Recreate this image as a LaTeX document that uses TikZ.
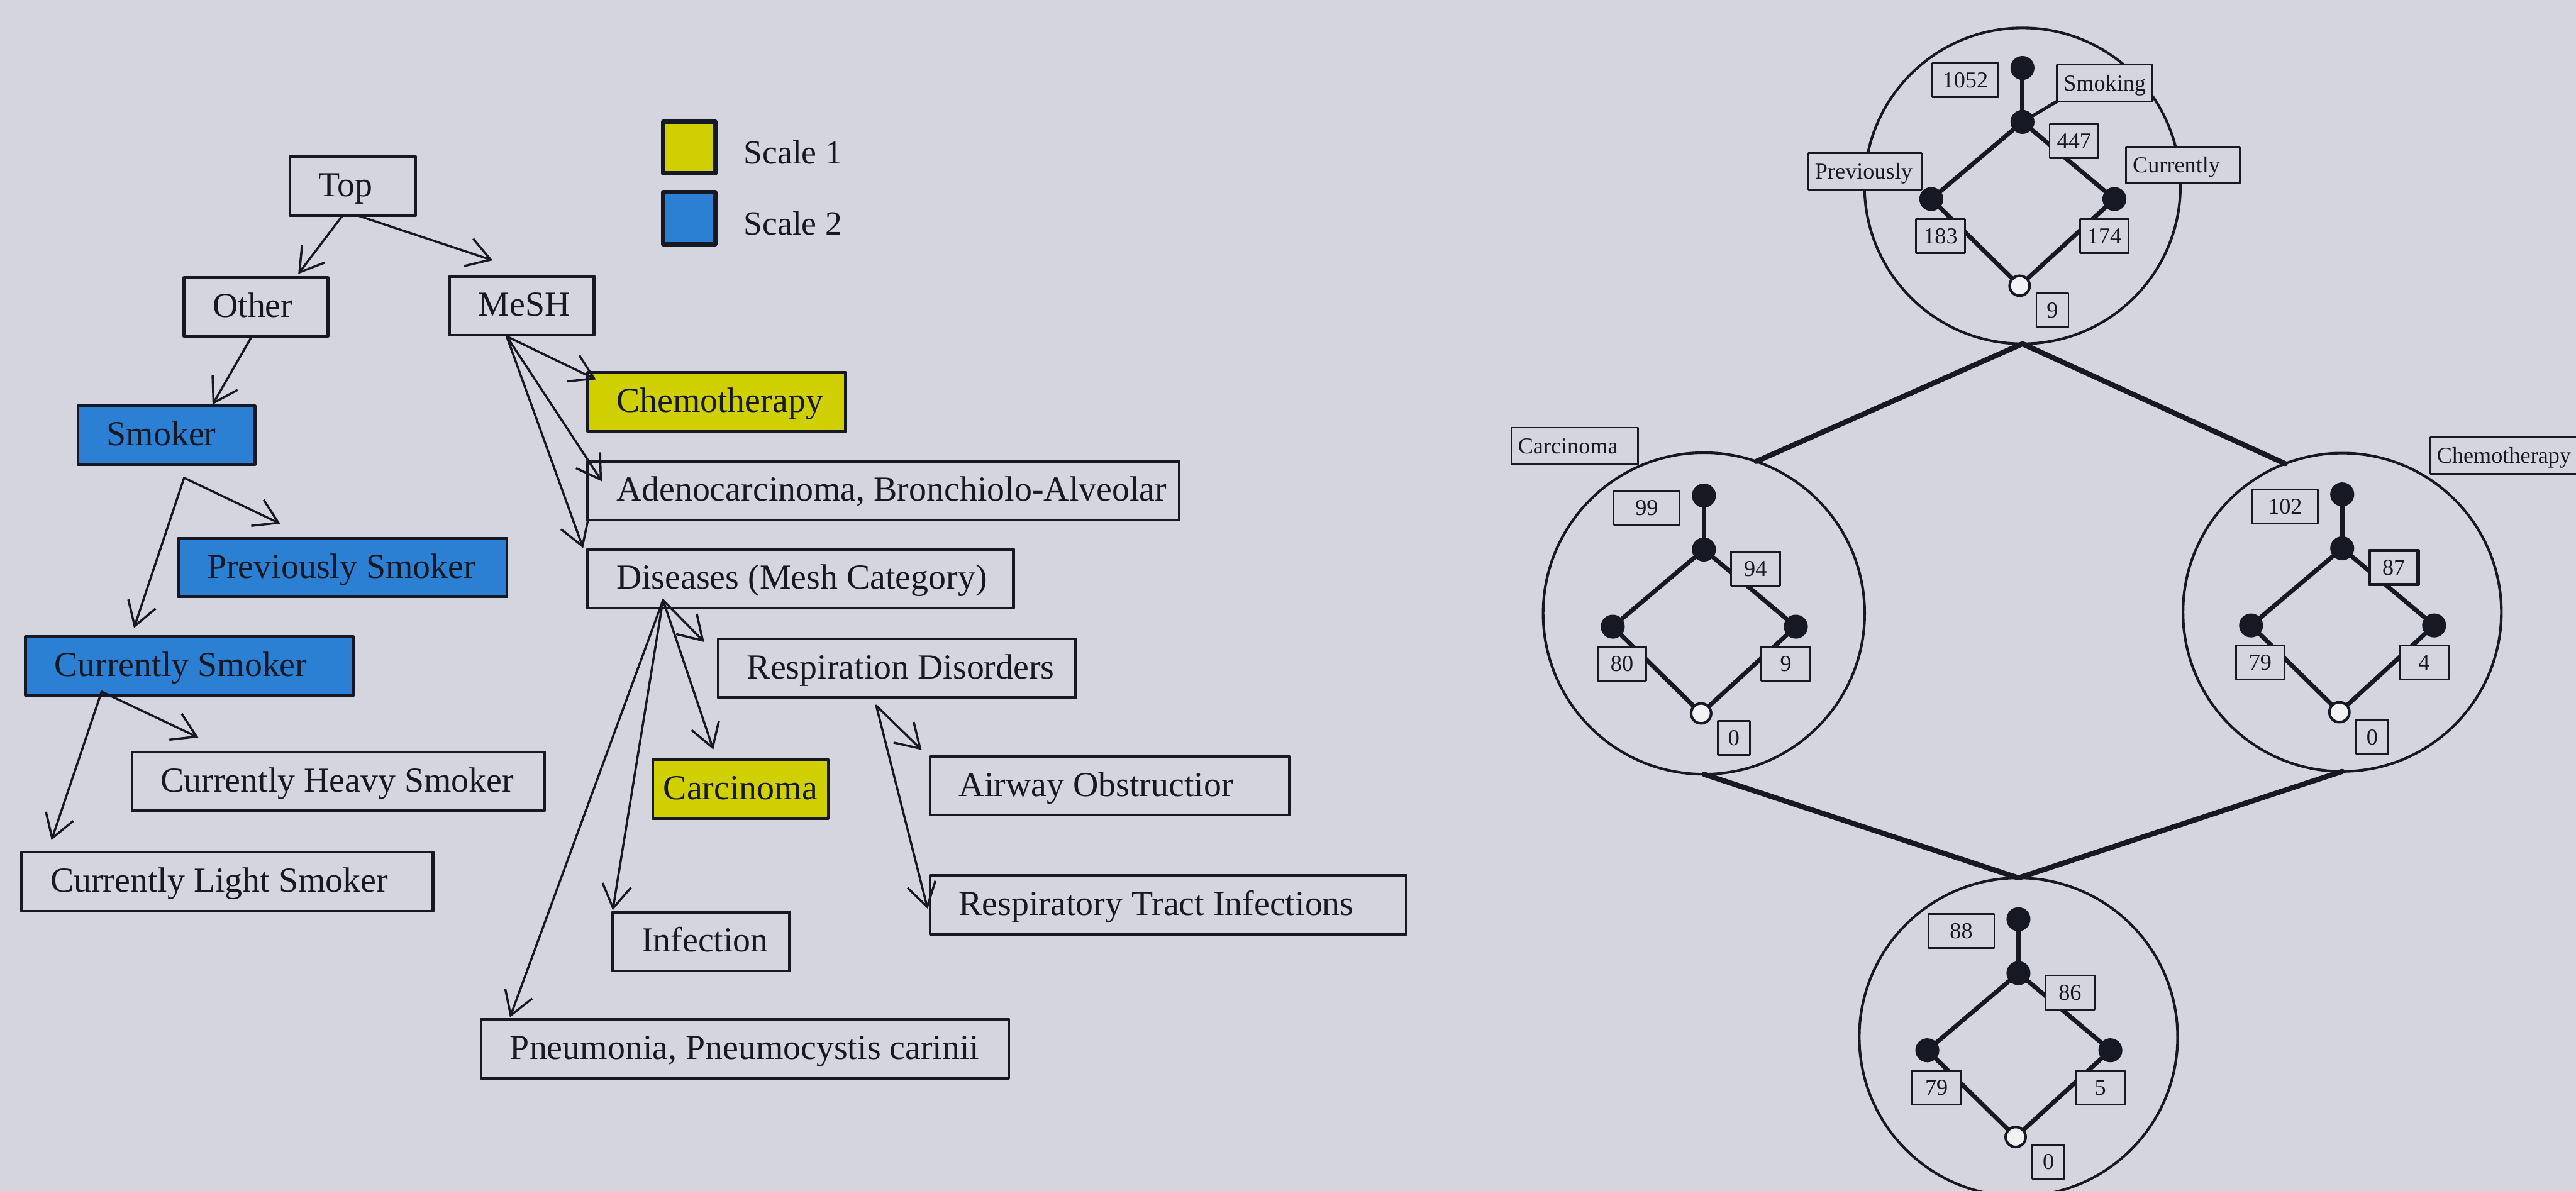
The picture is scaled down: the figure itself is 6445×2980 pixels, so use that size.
\documentclass[tikz,border=0pt]{standalone}
\usepackage{fontspec}
\setmainfont{Liberation Serif}
\usetikzlibrary{arrows.meta,calc}

\definecolor{paper}{RGB}{212,213,222}
\definecolor{ink}{RGB}{22,24,36}
\definecolor{scaleone}{RGB}{208,208,0}
\definecolor{scaletwo}{RGB}{44,128,212}

% struts keep the baselines of all box texts at the same height
\newcommand\tstrut{\rule[-0.23cm]{0pt}{0.98cm}}
\newcommand\sstrut{\rule[-0.14cm]{0pt}{0.66cm}}
\newcommand\padtext[2]{\hbox to #1{\tstrut#2\hss}}
\newcommand\padlabel[2]{\hbox to #1{\sstrut#2\hss}}

\tikzset{
  tbox/.style={draw=ink, line width=0.07cm, fill=paper, anchor=west, outer sep=0pt,
    inner xsep=0.72cm, inner ysep=0.1cm, minimum height=1.47cm,
    font=\fontsize{25}{30}\selectfont, text=ink},
  sc1/.style={tbox, fill=scaleone},
  sc2/.style={tbox, fill=scaletwo},
  arr/.style={draw=ink, line width=0.055cm, -{Straight Barb[length=0.58cm,width=0.72cm]}},
  ring/.style={circle, draw=ink, line width=0.065cm, inner sep=0pt, outer sep=0pt},
  link/.style={draw=ink, line width=0.13cm},
  edge/.style={draw=ink, line width=0.11cm},
  dot/.style={circle, fill=ink, inner sep=0pt, minimum size=0.6cm},
  odot/.style={circle, draw=ink, fill=white!70!paper, line width=0.065cm, inner sep=0pt, minimum size=0.5cm},
  cnt/.style={draw=ink, fill=paper, line width=0.045cm, inner sep=0pt, minimum height=0.85cm,
    font=\fontsize{16.2}{19}\selectfont, text=ink},
  lab/.style={draw=ink, fill=paper, line width=0.045cm, anchor=west, outer sep=0pt,
    inner xsep=0.17cm, inner ysep=0.05cm, minimum height=0.92cm,
    font=\fontsize{16.2}{19}\selectfont, text=ink},
  swatch/.style={draw=ink, line width=0.11cm, minimum size=1.3cm, inner sep=0pt},
}

% one concept lattice inside a circle:
% #1 prefix, #2 centre, #3-#7 counts (top, middle, left, right, bottom), #8 extra style of middle count
\newcommand\drawlattice[8]{%
  \begin{scope}[shift={(#2)}]
    \node[dot] (#1t) at (0,-295) {};
    \node[dot] (#1m) at (0,-160) {};
    \node[dot] (#1l) at (-228,33) {};
    \node[dot] (#1r) at (230,33) {};
    \node[odot] (#1b) at (-7,250) {};
    \draw[edge] (#1t) -- (#1m);
    \draw[edge] (#1m) -- (#1l) (#1l) -- (#1b) (#1b) -- (#1r) (#1r) -- (#1m);
    \node[cnt, minimum width=1.65cm] (#1ct) at (-143,-265) {\sstrut#3};
    \node[cnt, minimum width=1.22cm, #8] (#1cm) at (129,-112) {\sstrut#4};
    \node[cnt, minimum width=1.22cm] (#1cl) at (-205,126) {\sstrut#5};
    \node[cnt, minimum width=1.22cm] (#1cr) at (205,126) {\sstrut#6};
    \node[cnt, minimum width=0.80cm] (#1cb) at (75,312) {\sstrut#7};
  \end{scope}}

\begin{document}
\begin{tikzpicture}[x=0.01cm, y=-0.01cm, line cap=round, line join=round]
  \useasboundingbox (0,0) rectangle (6445,2980);
  \clip (0,0) rectangle (6445,2980);
  \fill[paper] (0,0) rectangle (6445,2980);

  % ---------------- taxonomy ----------------
  \node[tbox] (Top)       at (725,465)   {\padtext{1.71cm}{Top}};
  \node[tbox] (Other)     at (460,768)   {\padtext{2.16cm}{Other}};
  \node[tbox] (MeSH)      at (1125,765)  {\padtext{2.17cm}{MeSH}};
  \node[sc1]  (Chemo)     at (1470,1006) {\padtext{5.01cm}{Chemotherapy}};
  \node[sc2]  (Smoker)    at (195,1089)  {\padtext{2.99cm}{Smoker}};
  \node[tbox] (Adeno)     at (1470,1228) {\padtext{13.35cm}{Adenocarcinoma, Bronchiolo-Alveolar}};
  \node[sc2]  (Prev)      at (446,1420)  {\padtext{6.78cm}{Previously Smoker}};
  \node[tbox] (Dis)       at (1470,1448) {\padtext{9.21cm}{Diseases (Mesh Category)}};
  \node[sc2]  (Curr)      at (64,1667)   {\padtext{6.76cm}{Currently Smoker}};
  \node[tbox] (Resp)      at (1797,1672) {\padtext{7.50cm}{Respiration Disorders}};
  \node[tbox] (Heavy)     at (330,1955)  {\padtext{8.88cm}{Currently Heavy Smoker}};
  \node[sc1, inner xsep=0.2cm, minimum width=4.39cm] (Carc) at (1633,1974) {\tstrut Carcinoma};
  \node[tbox] (Airway)    at (2327,1966) {\padtext{7.54cm}{Airway Obstructior}};
  \node[tbox] (Light)     at (54,2206)   {\padtext{8.85cm}{Currently Light Smoker}};
  \node[tbox] (RTI)       at (2327,2264) {\padtext{10.47cm}{Respiratory Tract Infections}};
  \node[tbox] (Infection) at (1533,2356) {\padtext{2.98cm}{Infection}};
  \node[tbox] (Pneu)      at (1204,2624) {\padtext{11.75cm}{Pneumonia, Pneumocystis carinii}};

  % legend
  \node[swatch, fill=scaleone] (sw1) at (1724,369) {};
  \node[swatch, fill=scaletwo] (sw2) at (1724,546) {};
  \node[anchor=base west, inner sep=0pt, font=\fontsize{24}{29}\selectfont, text=ink] (lg1) at (1860,410) {Scale 1};
  \node[anchor=base west, inner sep=0pt, font=\fontsize{24}{29}\selectfont, text=ink] (lg2) at (1860,588) {Scale 2};

  % fan-out points of the arrows
  \coordinate (smk)  at ($(Smoker.south)+(44,33)$);
  \coordinate (cur)  at ($(Curr.south)+(-220,-10)$);
  \coordinate (mesh) at ($(MeSH.south)+(-38,3)$);
  \coordinate (dis)  at ($(Dis.south)+(-344,-20)$);
  \coordinate (resp) at ($(Resp.south)+(-52,20)$);

  \draw[arr] ($(Top.south)+(-25,0)$) -- ($(Other.north)+(106,-9)$);
  \draw[arr] ($(Top.south)+(10,0)$) -- ($(MeSH.north)+(-73,-40)$);
  \draw[arr] ($(Other.south)+(-10,0)$) -- ($(Smoker.north)+(115,-3)$);
  \draw[arr] (smk) -- ($(Prev.north)+(-156,-36)$);
  \draw[arr] (smk) -- ($(Curr.north)+(-139,-22)$);
  \draw[arr] (cur) -- ($(Heavy.north)+(-350,-36)$);
  \draw[arr] (cur) -- ($(Light.north)+(-440,-30)$);
  \draw[arr] (mesh) -- ($(Chemo.north west)+(21,17)$);
  \draw[arr] (mesh) -- ($(Adeno.north west)+(36,50)$);
  \draw[arr] (mesh) -- ($(Dis.north west)+(-11,-3)$);
  \draw[arr] (dis) -- ($(Resp.north west)+(-35,8)$);
  \draw[arr] (dis) -- ($(Carc.north)+(-68,-25)$);
  \draw[arr] (dis) -- ($(Infection.north west)+(0,-5)$);
  \draw[arr] (dis) -- ($(Pneu.north west)+(72,-5)$);
  \draw[arr] (resp) -- ($(Airway.north west)+(-21,-16)$);
  \draw[arr] (resp) -- ($(RTI.west)+(-6,10)$);

  % ---------------- nested line diagram ----------------
  \node[ring, minimum size=7.90cm] (cT) at (5060,465)  {};
  \node[ring, minimum size=8.04cm] (cL) at (4263,1535) {};
  \node[ring, minimum size=7.96cm] (cR) at (5860,1532) {};
  \node[ring, minimum size=7.96cm] (cB) at (5050,2595) {};

  \draw[link] (cT.south) -- (cL.71);
  \draw[link] (cT.south) -- (cR.111);
  \draw[link] (cL.south) -- (cB.north);
  \draw[link] (cR.south) -- (cB.north);

  \drawlattice{T}{5060,465}{1052}{447}{183}{174}{9}{}
  \drawlattice{L}{4263,1535}{99}{94}{80}{9}{0}{}
  \drawlattice{R}{5860,1532}{102}{87}{79}{4}{0}{line width=0.09cm}
  \drawlattice{B}{5050,2595}{88}{86}{79}{5}{0}{}

  \node[lab] (lSmoking) at (5146,208)  {\padlabel{2.05cm}{Smoking}};
  \node[lab] (lPrev)    at (4524,429)  {\padlabel{2.50cm}{Previously}};
  \node[lab] (lCurr)    at (5319,413)  {\padlabel{2.51cm}{Currently}};
  \node[lab] (lCarc)    at (3781,1116) {\padlabel{2.83cm}{Carcinoma}};
  \node[lab] (lChemo)   at (6080,1140) {\padlabel{3.43cm}{Chemotherapy}};
  \draw[edge, line width=0.08cm] (Tm) -- (lSmoking.south west);
\end{tikzpicture}
\end{document}
